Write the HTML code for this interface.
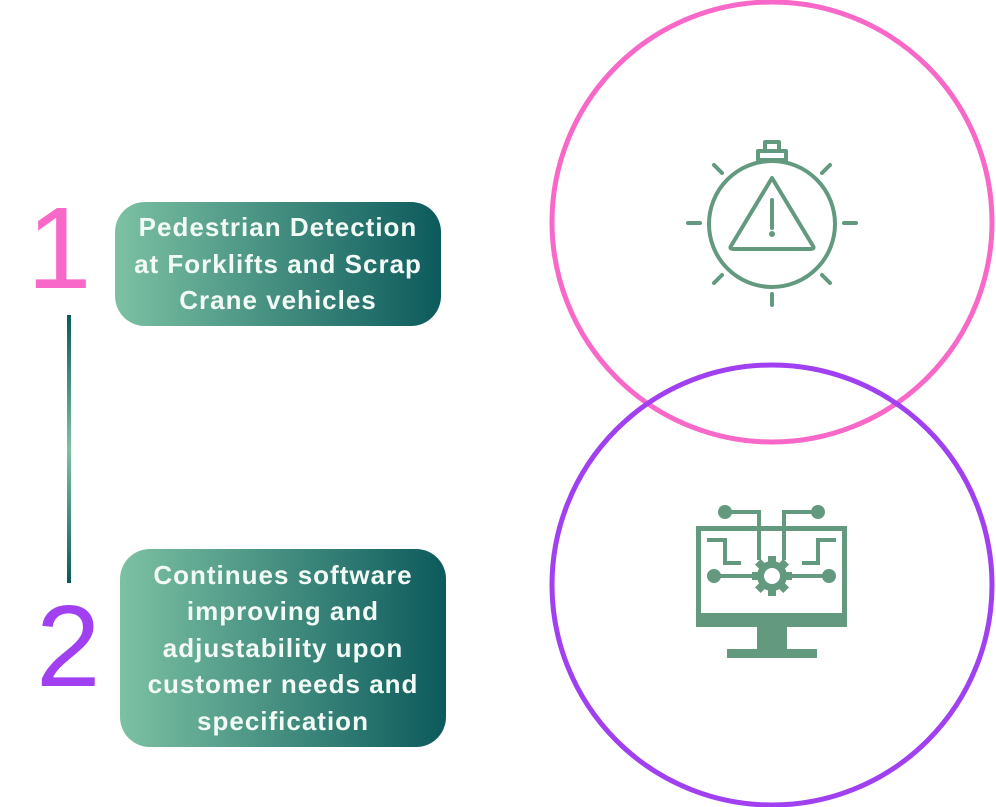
<!DOCTYPE html>
<html><head><style>
body{margin:0;width:996px;height:807px;background:#fff;position:relative;overflow:hidden;font-family:"Liberation Sans",sans-serif}
.box{position:absolute;border-radius:30px;background:linear-gradient(90deg,#7cc1a3,#0c5a5c);color:#f2faf6;font-weight:bold;font-size:26px;line-height:36.5px;text-align:center;display:flex;align-items:center;justify-content:center;letter-spacing:1px}
.num{position:absolute;font-size:116px;line-height:1;font-weight:normal}
</style></head><body>
<svg width="996" height="807" style="position:absolute;left:0;top:0">
<defs><linearGradient id="lg" x1="0" y1="0" x2="0" y2="1"><stop offset="0" stop-color="#0c5a5c"/><stop offset="0.5" stop-color="#7cc1a3"/><stop offset="1" stop-color="#0c5a5c"/></linearGradient></defs>
<rect x="67" y="315" width="4" height="268" fill="url(#lg)"/>
<circle cx="772" cy="222" r="220" fill="none" stroke="#f868c8" stroke-width="5"/>
<circle cx="772" cy="585" r="220" fill="none" stroke="#a040f0" stroke-width="5"/>
<g stroke="#62997f" stroke-width="4" fill="none" stroke-linecap="round" stroke-linejoin="round">
<circle cx="772" cy="224" r="63"/>
<rect x="758" y="151" width="28" height="9" fill="#fff"/>
<rect x="765" y="142" width="14" height="9"/>
<path d="M772 178 L813 246 Q815 249 810 249 L734 249 Q729 249 731 246 Z"/>
<line x1="772" y1="200" x2="772" y2="228"/>
<line x1="688" y1="223" x2="700" y2="223"/><line x1="844" y1="223" x2="856" y2="223"/>
<line x1="772" y1="294" x2="772" y2="305"/>
<line x1="714" y1="165" x2="722" y2="173"/><line x1="830" y1="165" x2="822" y2="173"/>
<line x1="714" y1="283" x2="722" y2="275"/><line x1="830" y1="283" x2="822" y2="275"/>
</g>
<circle cx="772" cy="234" r="3" fill="#62997f"/>
<g fill="#62997f">
<rect x="696" y="526" width="151" height="101"/>
<rect x="701" y="531" width="141" height="82" fill="#fff"/>
<rect x="757" y="627" width="30" height="23"/>
<rect x="727" y="649" width="90" height="9"/>
</g>
<g stroke="#62997f" stroke-width="4" fill="none">
<path d="M725 512 H759 V560"/><path d="M818 512 H784 V560"/>
<path d="M707 540 H725 V563 H741"/><path d="M836 540 H818 V563 H802"/>
<line x1="713" y1="576" x2="752" y2="576"/><line x1="791" y1="576" x2="830" y2="576"/>
</g>
<g fill="#62997f"><circle cx="725" cy="512" r="7"/><circle cx="818" cy="512" r="7"/>
<circle cx="714" cy="576" r="7"/><circle cx="829" cy="576" r="7"/>
<circle cx="772" cy="576" r="15"/>
<g transform="translate(772 576)"><rect x="-4" y="-20" width="8" height="40"/><rect x="-20" y="-4" width="40" height="8"/><rect x="-4" y="-20" width="8" height="40" transform="rotate(45)"/><rect x="-4" y="-20" width="8" height="40" transform="rotate(-45)"/></g>
</g>
<circle cx="772" cy="576" r="8" fill="#fff"/>
</svg>
<div class="num" style="left:27px;top:190px;color:#f868c8">1</div>
<div class="num" style="left:36px;top:588px;color:#a040f0">2</div>
<div class="box" style="left:115px;top:202px;width:326px;height:124px">Pedestrian Detection<br>at Forklifts and Scrap<br>Crane vehicles</div>
<div class="box" style="left:120px;top:549px;width:326px;height:198px">Continues software<br>improving and<br>adjustability upon<br>customer needs and<br>specification</div>
</body></html>
